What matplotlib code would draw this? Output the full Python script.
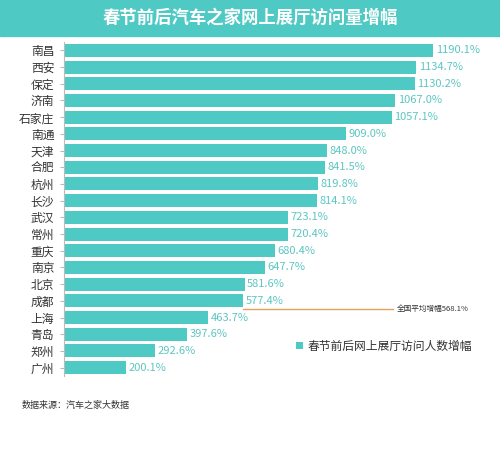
import matplotlib
matplotlib.use("Agg")
import matplotlib.pyplot as plt
from matplotlib.patches import Rectangle

plt.rcParams['font.family'] = ['Noto Sans CJK SC', 'DejaVu Sans']

cities = ["南昌", "西安", "保定", "济南", "石家庄", "南通", "天津", "合肥", "杭州", "长沙",
          "武汉", "常州", "重庆", "南京", "北京", "成都", "上海", "青岛", "郑州", "广州"]
values = [1190.1, 1134.7, 1130.2, 1067.0, 1057.1, 909.0, 848.0, 841.5, 819.8, 814.1,
          723.1, 720.4, 680.4, 647.7, 581.6, 577.4, 463.7, 397.6, 292.6, 200.1]
avg = 568.1

teal = "#4fc9c4"
fig = plt.figure(figsize=(5.0, 4.51), dpi=100)
fig.patches.append(Rectangle((0, 1 - 36/451), 1, 36/451, transform=fig.transFigure,
                             color=teal, zorder=0))
fig.text(0.5, 1 - 18/451, "春节前后汽车之家网上展厅访问量增幅", ha="center", va="center",
         color="white", fontsize=12.5, fontweight="bold")

ax = fig.add_axes([64/500, 1 - 376/451, 419/500, 334/451])
y = list(range(len(cities)))
ax.barh(y, values, height=0.78, color=teal, label="春节前后网上展厅访问人数增幅")
for yi, v in zip(y, values):
    ax.text(v + 8, yi, f"{v:.1f}%", va="center", ha="left", fontsize=8, color="#5cc6c2")
ax.set_ylim(len(cities) - 0.5, -0.5)
ax.set_xlim(0, 1350)
ax.set_yticks(y)
ax.set_yticklabels(cities, fontsize=8.5, color="#333333")
ax.set_xticks([])
for s in ["top", "right", "bottom"]:
    ax.spines[s].set_visible(False)
ax.spines["left"].set_color("#bbbbbb")
ax.tick_params(axis="y", length=3, color="#bbbbbb", pad=4)

ax.plot([avg + 10, 1060], [15.5, 15.5], color="#e8a060", lw=1)
ax.text(1072, 15.5, f"全国平均增幅{avg}%", fontsize=5.5, va="center", color="#333333")

ax.legend(loc="center right", bbox_to_anchor=(1.0, 0.09), frameon=False, fontsize=8.5,
          handlelength=0.6, handleheight=0.6, handletextpad=0.4, labelcolor="#333333")

fig.text(22/500, 1 - 405/451, "数据来源：汽车之家大数据", fontsize=6.5, va="center", color="#333333")
fig.savefig("out.png", dpi=100)
